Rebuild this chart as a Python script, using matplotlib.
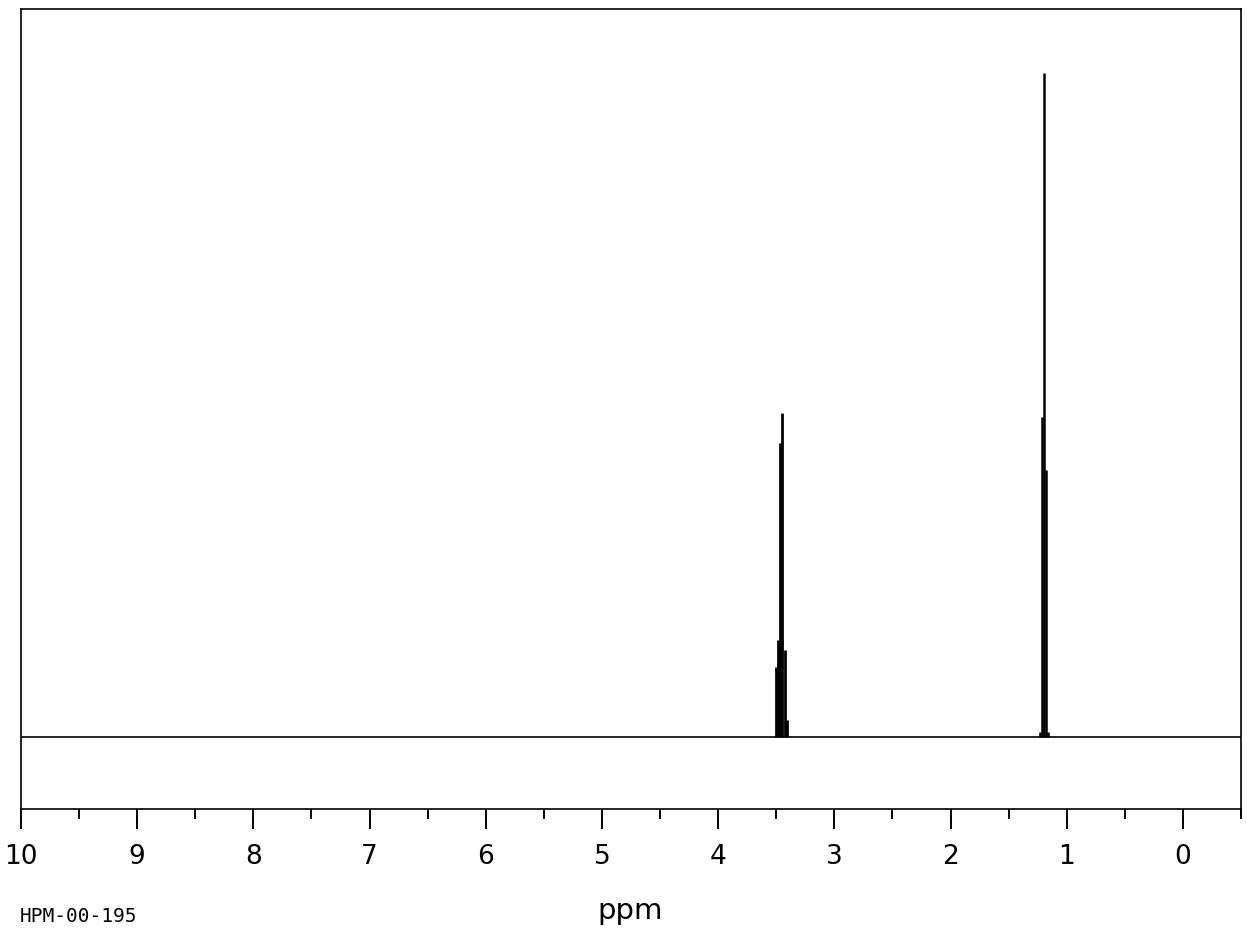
import matplotlib.pyplot as plt
from matplotlib.ticker import MultipleLocator

# peak lines: shift (ppm) and relative intensity
quartet_ppm = [3.503, 3.486, 3.468, 3.451, 3.425, 3.408]
quartet_int = [10.5, 14.6, 44.3, 48.8, 13.1, 2.6]
triplet_ppm = [1.230, 1.213, 1.196, 1.179, 1.162]
triplet_int = [0.8, 48.2, 100.0, 40.2, 0.8]

tick_values = [10, 9, 8, 7, 6, 5, 4, 3, 2, 1, 0]
sample_id = "HPM-00-195"

fig = plt.figure(figsize=(12.47, 9.36), dpi=100)
ax = fig.add_axes([21 / 1247, 1 - 809 / 936, 1220 / 1247, 800 / 936])

ax.axhline(0, color="black", lw=1.2)
ax.vlines(quartet_ppm, 0, quartet_int, color="black", lw=2.0)
ax.vlines(triplet_ppm, 0, triplet_int, color="black", lw=1.8)

ax.set_xlim(10, -0.5)
ax.set_ylim(-10.84, 109.6)

ax.set_xticks(tick_values)
ax.set_xticklabels([str(v) for v in tick_values])
ax.xaxis.set_minor_locator(MultipleLocator(0.5))
ax.tick_params(axis="x", which="major", direction="out", length=14.5,
               width=1.4, labelsize=19, pad=11, colors="black")
ax.tick_params(axis="x", which="minor", direction="out", length=7.5,
               width=1.4)
ax.set_yticks([])
for s in ax.spines.values():
    s.set_linewidth(1.2)

fig.text(630 / 1247, 1 - 911 / 936, "ppm", ha="center", va="center",
         fontsize=21)
fig.text(20 / 1247, 1 - 916 / 936, sample_id, ha="left", va="center",
         fontsize=14, family="DejaVu Sans Mono")

plt.savefig("out.png", dpi=100)
plt.close()
